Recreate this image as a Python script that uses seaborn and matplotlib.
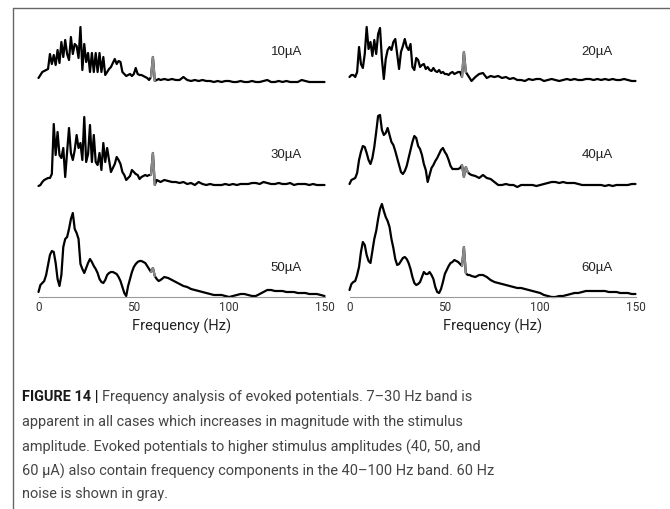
import matplotlib
matplotlib.use("Agg")
import matplotlib.pyplot as plt
from matplotlib.lines import Line2D
import pandas as pd
import seaborn as sns

# ---------------- data ----------------
FREQ = list(range(0, 65)) + list(range(66, 151, 2))

AMP_10 = [6, 9, 12, 13, 14, 15, 30, 20, 29, 19,
          34, 21, 42, 27, 44, 30, 24, 47, 30, 40,
          38, 26, 57, 14, 40, 22, 31, 12, 31, 12,
          31, 12, 31, 12, 27, 9, 12, 15, 17, 21,
          25, 20, 23, 22, 12, 10, 8, 9, 10, 8,
          10, 16, 10, 9, 9, 8, 7, 6, 4, 7,
          27, 3, 4, 5, 4,
          5, 4, 5, 4, 4, 7, 4, 3, 4, 3,
          4, 3, 3, 2, 3, 2, 3, 3, 2, 2,
          3, 2, 2, 3, 2, 2, 3, 4, 2, 2,
          3, 2, 3, 2, 2, 2, 4, 3, 2, 2,
          2, 2, 2]
AMP_20 = [7, 9, 9, 7, 12, 37, 20, 16, 30, 57,
          35, 42, 28, 44, 30, 50, 56, 25, 5, 25,
          34, 37, 34, 42, 45, 30, 15, 32, 38, 45,
          37, 34, 40, 17, 14, 26, 24, 17, 19, 20,
          15, 17, 14, 13, 16, 13, 12, 14, 11, 12,
          10, 10, 9, 11, 12, 10, 11, 12, 12, 7,
          32, 12, 9, 6, 3,
          7, 10, 11, 6, 8, 7, 8, 6, 7, 5,
          6, 4, 4, 3, 5, 4, 5, 5, 3, 4,
          5, 4, 3, 4, 5, 4, 5, 4, 4, 5,
          5, 4, 5, 4, 5, 4, 5, 4, 4, 5,
          4, 3, 3]
AMP_30 = [2, 3, 6, 8, 9, 10, 10, 14, 64, 33,
          56, 33, 30, 40, 11, 36, 60, 35, 28, 38,
          53, 40, 45, 28, 71, 26, 34, 63, 26, 53,
          26, 23, 35, 18, 45, 26, 40, 28, 16, 20,
          24, 31, 28, 24, 16, 13, 8, 10, 12, 18,
          16, 14, 13, 9, 11, 12, 13, 12, 13, 13,
          35, 3, 8, 7, 6,
          8, 7, 6, 6, 5, 6, 4, 5, 3, 6,
          4, 3, 4, 3, 3, 3, 4, 3, 4, 3,
          4, 4, 4, 5, 5, 4, 6, 5, 4, 4,
          5, 4, 4, 5, 3, 4, 4, 4, 3, 4,
          3, 3, 3]
AMP_40 = [4, 8, 9, 10, 15, 28, 36, 42, 41, 35,
          28, 24, 30, 41, 56, 72, 73, 58, 53, 55,
          60, 53, 46, 43, 37, 30, 23, 16, 14, 17,
          22, 30, 38, 46, 52, 50, 42, 39, 33, 24,
          18, 6, 13, 20, 23, 27, 30, 34, 38, 40,
          36, 33, 28, 22, 19, 19, 19, 19, 20, 23,
          11, 21, 16, 14, 13,
          12, 10, 13, 10, 9, 6, 3, 3, 4, 3,
          3, 1, 3, 3, 3, 3, 2, 3, 4, 5,
          6, 6, 5, 6, 5, 5, 5, 4, 3, 3,
          3, 3, 3, 3, 2, 3, 2, 3, 3, 3,
          3, 4, 4]
AMP_50 = [5, 12, 14, 16, 22, 32, 42, 46, 45, 34,
          18, 11, 22, 50, 58, 60, 68, 78, 84, 68,
          64, 58, 33, 28, 24, 29, 34, 38, 35, 31,
          28, 24, 18, 15, 14, 17, 22, 24, 25, 25,
          24, 23, 20, 16, 10, 4, 1, 11, 18, 25,
          30, 33, 35, 36, 36, 35, 34, 31, 28, 25,
          29, 21, 18, 16, 17,
          20, 19, 17, 15, 13, 11, 10, 8, 7, 6,
          5, 4, 3, 2, 2, 2, 1, 0, 1, 2,
          3, 3, 2, 1, 1, 3, 5, 7, 7, 6,
          6, 6, 5, 5, 5, 4, 4, 4, 3, 3,
          3, 2, 1]
AMP_60 = [7, 13, 15, 16, 22, 30, 45, 55, 52, 42,
          36, 34, 46, 58, 66, 78, 88, 93, 86, 80,
          76, 70, 58, 49, 38, 32, 33, 36, 39, 40,
          38, 34, 28, 20, 14, 12, 13, 15, 20, 25,
          23, 23, 25, 22, 18, 10, 5, 4, 8, 15,
          23, 27, 31, 34, 35, 37, 36, 35, 33, 31,
          50, 24, 22, 22, 21,
          20, 22, 22, 20, 17, 15, 14, 13, 12, 11,
          10, 9, 9, 8, 7, 6, 5, 4, 2, 1,
          0, 0, 1, 1, 2, 3, 4, 4, 5, 6,
          6, 6, 6, 6, 6, 5, 5, 5, 4, 4,
          4, 3, 3]

SERIES = [AMP_10, AMP_20, AMP_30, AMP_40, AMP_50, AMP_60]
LABELS = ["10µA", "20µA", "30µA", "40µA", "50µA", "60µA"]
NOISE_BAND = [(59, 61), (59, 61), (59, 61), (59, 62), (59, 61), (59, 61)]
XTICKS = [0, 50, 100, 150]
XLABEL = "Frequency (Hz)"
CAPTION_BOLD = "FIGURE 14 |"
CAPTION_LINES = [
    "Frequency analysis of evoked potentials. 7\u201330 Hz band is",
    "apparent in all cases which increases in magnitude with the stimulus",
    "amplitude. Evoked potentials to higher stimulus amplitudes (40, 50, and",
    "60 \u00b5A) also contain frequency components in the 40\u2013100 Hz band. 60 Hz",
    "noise is shown in gray.",
]

for s in SERIES:
    assert len(s) == len(FREQ), len(s)

# ---------------- style ----------------
sns.set_theme(style="white")
plt.rcParams['font.family'] = ['Liberation Sans', 'DejaVu Sans']
NARROW = ['Roboto', 'Liberation Sans', 'DejaVu Sans']

W, H = 670, 509
fig = plt.figure(figsize=(W / 100, H / 100), dpi=100)
fig.patch.set_facecolor('white')


def px_axes(x0, baseline, width, height):
    return fig.add_axes([x0 / W, (H - baseline) / H, width / W, height / H])


COL_X = [38.5, 349.5]
COL_W = 286
ROW_BASE = [84, 188, 297]
ROW_H = [75, 100, 100]
LW = 1.6

for i, (amp, lab, (n0, n1)) in enumerate(zip(SERIES, LABELS, NOISE_BAND)):
    r, c = divmod(i, 2)
    ax = px_axes(COL_X[c], ROW_BASE[r], COL_W, ROW_H[r])
    ax.set_facecolor('none')
    df = pd.DataFrame({"freq": FREQ, "amp": amp})
    sns.lineplot(data=df, x="freq", y="amp", ax=ax, color="black", lw=LW,
                 estimator=None, sort=False, clip_on=False,
                 solid_joinstyle='round')
    noise = df[(df.freq >= n0) & (df.freq <= n1)]
    sns.lineplot(data=noise, x="freq", y="amp", ax=ax, color="#8a8a8a", lw=LW,
                 estimator=None, sort=False, clip_on=False,
                 solid_joinstyle='round')
    ax.set_xlim(0, 150)
    ax.set_ylim(0, ROW_H[r])
    ax.set_ylabel("")
    ax.set_yticks([])
    for sp in ["top", "right", "left"]:
        ax.spines[sp].set_visible(False)
    ax.text(130, [32, 33, 29][r], lab, ha="center", va="center",
            fontsize=9.5, color="#222222")
    if r == 2:
        ax.spines["bottom"].set_visible(True)
        ax.spines["bottom"].set_color("#9a9a9a")
        ax.spines["bottom"].set_linewidth(0.8)
        ax.set_xticks(XTICKS)
        ax.set_xticklabels([str(t) for t in XTICKS], fontsize=8.5,
                           color="#333333", family=NARROW)
        ax.tick_params(axis="x", length=0, pad=3)
        ax.set_xlabel(XLABEL, fontsize=10.5, color="#222222", family=NARROW)
        ax.xaxis.set_label_coords(0.5, -(326 - 297) / ROW_H[r])
        ax.xaxis.label.set_va("center")
    else:
        ax.spines["bottom"].set_visible(False)
        ax.set_xticks([])
        ax.set_xlabel("")

# frame lines
fig.add_artist(Line2D([13 / W, 1], [(H - 8) / H] * 2, transform=fig.transFigure,
                      color="#666666", lw=1.0))
fig.add_artist(Line2D([13 / W, 13 / W], [0, (H - 8) / H], transform=fig.transFigure,
                      color="#666666", lw=1.0))

# caption
renderer = fig.canvas.get_renderer()
probe = fig.text(0, 0, CAPTION_LINES[1], fontsize=12, family=NARROW)
w = probe.get_window_extent(renderer).width
probe.remove()
cap_fs = 12 * 442 / w

CAP_X = 22
CAP_Y = [397, 422, 447, 471, 494]
tb = fig.text(CAP_X / W, (H - CAP_Y[0]) / H, CAPTION_BOLD + " ", fontsize=cap_fs,
              family=NARROW, fontweight="bold", color="#1a1a1a", va="center")
bw = tb.get_window_extent(renderer).width
for k, line in enumerate(CAPTION_LINES):
    x = CAP_X + (bw if k == 0 else 0)
    fig.text(x / W, (H - CAP_Y[k]) / H, line, fontsize=cap_fs, family=NARROW,
             color="#444444", va="center")

fig.savefig("out.png", dpi=100)
